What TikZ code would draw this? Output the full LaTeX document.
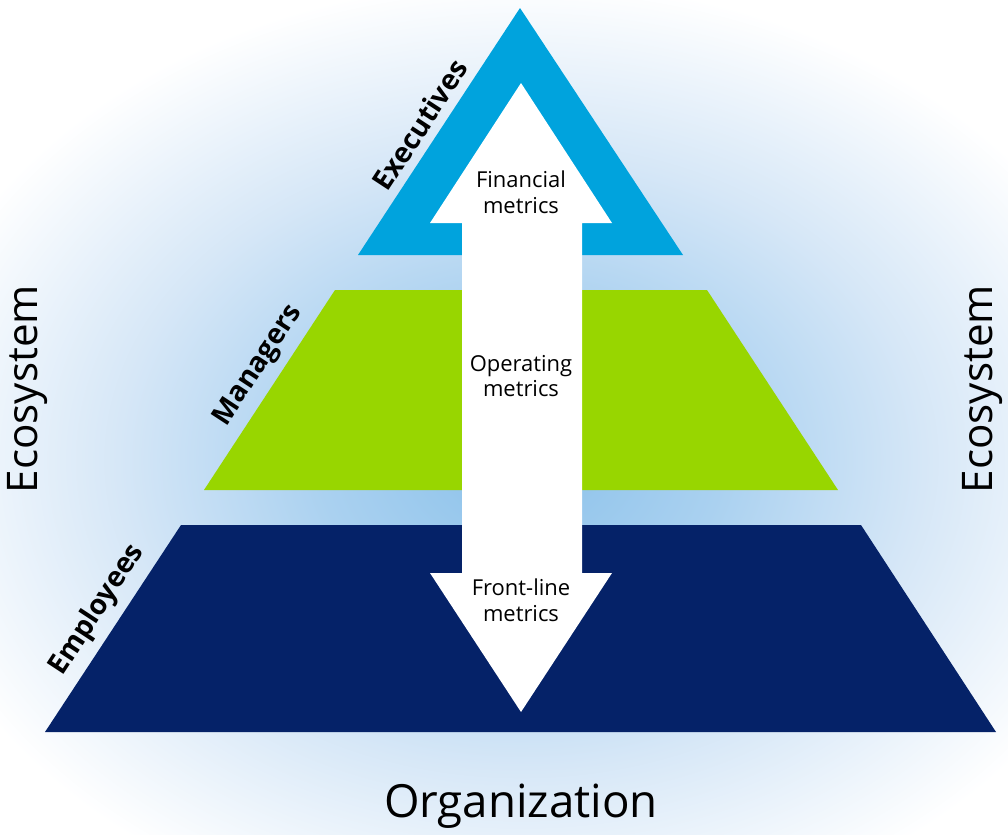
\documentclass[tikz,border=0pt]{standalone}
\usepackage{fontspec}
\setmainfont{Open Sans}
\definecolor{execBlue}{RGB}{0,163,221}
\definecolor{mgrGreen}{RGB}{152,214,0}
\definecolor{empNavy}{RGB}{5,34,104}
\definecolor{glowCore}{RGB}{138,193,234}
\definecolor{glowMid}{RGB}{170,209,240}
\definecolor{glowPale}{RGB}{214,231,247}
\pgfdeclareradialshading{glow}{\pgfpoint{0bp}{0bp}}{color(0bp)=(glowCore); color(8bp)=(glowMid); color(16bp)=(glowPale); color(25bp)=(white); color(50bp)=(white)}
\begin{document}
\begin{tikzpicture}[x=0.02cm, y=-0.02cm,
		levelLabel/.style={font=\fontsize{16}{16}\selectfont\bfseries, inner sep=2pt},
		metricText/.style={font=\fontsize{12.5}{14.7}\selectfont, align=center},
		sideText/.style={font=\fontsize{24}{24}\selectfont, rotate=90}]
	\useasboundingbox (0,0) rectangle (1008,835);
	\shade[shading=glow] (521,460) ellipse [x radius=630, y radius=480];
	% corners of the three levels
	\coordinate (execTop) at (520,8);
	\coordinate (execLeft) at (358,255);
	\coordinate (execRight) at (683,255);
	\coordinate (mgrTopLeft) at (335,290);
	\coordinate (mgrTopRight) at (707,290);
	\coordinate (mgrBtmLeft) at (204,490);
	\coordinate (mgrBtmRight) at (838,490);
	\coordinate (empTopLeft) at (181,525);
	\coordinate (empTopRight) at (861,525);
	\coordinate (empBtmLeft) at (45,732);
	\coordinate (empBtmRight) at (996,732);
	\fill[execBlue] (execLeft) -- (execTop) -- (execRight) -- cycle;
	\fill[mgrGreen] (mgrBtmLeft) -- (mgrTopLeft) -- (mgrTopRight) -- (mgrBtmRight) -- cycle;
	\fill[empNavy] (empBtmLeft) -- (empTopLeft) -- (empTopRight) -- (empBtmRight) -- cycle;
	% double arrow
	\fill[white] (521,83) -- (612,223) -- (582,223) -- (582,573) -- (612,573) -- (521,712)
		-- (430,573) -- (462,573) -- (462,223) -- (430,223) -- cycle;
	\node[metricText](finText) at (521,192){Financial\\metrics};
	\node[metricText](opText) at (521,376){Operating\\metrics};
	\node[metricText](frontText) at (521,600){Front-line\\metrics};
	\path (execLeft) -- node[levelLabel, sloped, above=3pt, pos=0.484](execLabel){Executives}(execTop);
	\path (mgrBtmLeft) -- node[levelLabel, sloped, above=3pt, pos=0.56](mgrLabel){Managers}(mgrTopLeft);
	\path (empBtmLeft) -- node[levelLabel, sloped, above=3pt, pos=0.528](empLabel){Employees}(empTopLeft);
	\node[sideText](ecoLeft) at (28,389){Ecosystem};
	\node[sideText](ecoRight) at (983,389){Ecosystem};
	\node[font=\fontsize{26}{26}\selectfont](orgText) at (521,806){Organization};
\end{tikzpicture}
\end{document}
